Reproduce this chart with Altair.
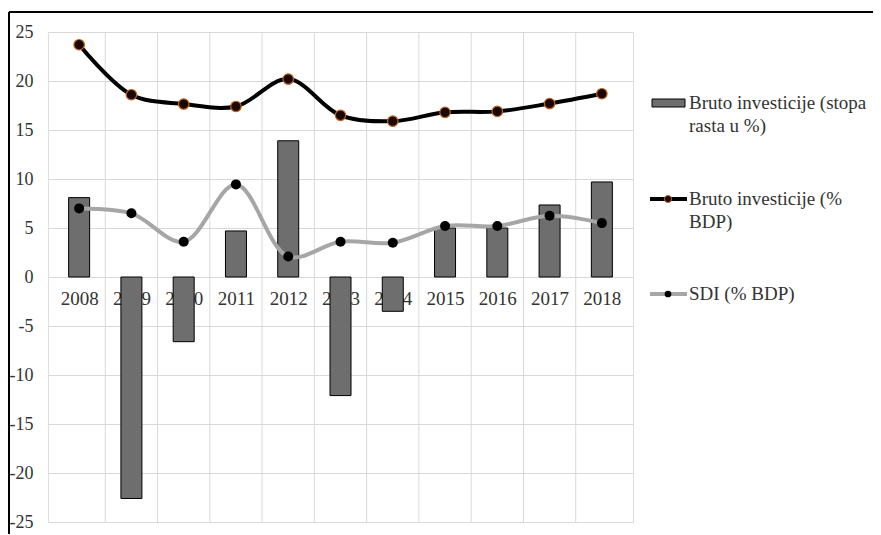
import altair as alt
import pandas as pd

# ---- data ----
years = [2008, 2009, 2010, 2011, 2012, 2013, 2014, 2015, 2016, 2017, 2018]
growth = [8.1, -22.6, -6.6, 4.7, 13.9, -12.1, -3.5, 5.0, 5.0, 7.35, 9.7]      # Bruto investicije (stopa rasta u %)
gross_inv = [23.7, 18.6, 17.65, 17.4, 20.2, 16.5, 15.9, 16.8, 16.9, 17.7, 18.7]  # Bruto investicije (% BDP)
fdi = [7.0, 6.5, 3.6, 9.45, 2.1, 3.6, 3.5, 5.2, 5.2, 6.25, 5.5]                # SDI (% BDP)
y_ticks = [-25, -20, -15, -10, -5, 0, 5, 10, 15, 20, 25]
legend_labels = ["Bruto investicije (stopa\nrasta u %)", "Bruto investicije (%\nBDP)", "SDI (% BDP)"]

W, H = 585, 490
FONT = "Liberation Serif, Times New Roman, Times, serif"
TXT = "#333333"

df = pd.DataFrame({"year": years, "growth": growth, "gi": gross_inv, "fdi": fdi})
bounds = pd.DataFrame({"year": years[:-1]})
one = pd.DataFrame({"k": [0]})

xs = alt.Scale(domain=[years[0] - 0.5, years[-1] + 0.5], nice=False, zero=False)
ys = alt.Scale(domain=[y_ticks[0], y_ticks[-1]], nice=False)

x_axis = alt.Axis(values=years, format="d", grid=False, domain=False, ticks=False,
                  labelPadding=12, offset=-245, labelFontSize=19, labelFont=FONT,
                  labelColor=TXT, title=None, zindex=0)
y_axis = alt.Axis(values=y_ticks, labelExpr="'' + datum.value", grid=True, gridColor="#d9d9d9",
                  domain=False, ticks=False, labelPadding=15, labelFontSize=18, labelFont=FONT,
                  labelColor=TXT, title=None, zindex=0)


def X(field="year"):
    return alt.X(f"{field}:Q", scale=xs, axis=x_axis)


def Y(field):
    return alt.Y(f"{field}:Q", scale=ys, axis=y_axis)


base = alt.Chart(df)

vgrid = alt.Chart(bounds).transform_calculate(b="datum.year + 0.5").mark_rule(
    color="#d9d9d9", strokeWidth=1).encode(x=alt.X("b:Q", scale=xs, axis=x_axis),
                                          y=alt.value(0), y2=alt.value(H))

bars = base.mark_bar(size=21, fill="#6e6e6e", stroke="black", strokeWidth=1).encode(
    x=X(), y=Y("growth"))

gi_line = base.mark_line(interpolate="catmull-rom", color="black", strokeWidth=4).encode(
    x=X(), y=Y("gi"))
gi_pts = base.mark_circle(size=110, color="#1a0800", opacity=1, stroke="#c0641e",
                          strokeWidth=1.2).encode(x=X(), y=Y("gi"))

fdi_line = base.mark_line(interpolate="catmull-rom", color="#a6a6a6", strokeWidth=4).encode(
    x=X(), y=Y("fdi"))
fdi_pts = base.mark_circle(size=100, color="black", opacity=1).encode(x=X(), y=Y("fdi"))

# ---- legend (drawn by hand, Excel style) ----
leg = alt.Chart(one)
lx0, lx1, lpx, ltx = 602, 639, 620, 641
item_y = [71, 167, 262]

leg_bar = leg.mark_rect(fill="#6e6e6e", stroke="black", strokeWidth=1).encode(
    x=alt.value(lx0 + 2), x2=alt.value(lx1 - 2), y=alt.value(item_y[0] - 4), y2=alt.value(item_y[0] + 4))
leg_l1 = leg.mark_rule(color="black", strokeWidth=4).encode(
    x=alt.value(lx0), x2=alt.value(lx1), y=alt.value(item_y[1]))
leg_p1 = leg.mark_circle(size=50, color="#1a0800", opacity=1, stroke="#c0641e", strokeWidth=1).encode(
    x=alt.value(lpx), y=alt.value(item_y[1]))
leg_l2 = leg.mark_rule(color="#a6a6a6", strokeWidth=4).encode(
    x=alt.value(lx0), x2=alt.value(lx1), y=alt.value(item_y[2]))
leg_p2 = leg.mark_circle(size=45, color="black", opacity=1).encode(
    x=alt.value(lpx), y=alt.value(item_y[2]))

texts = []
for lab, yy in zip(legend_labels, item_y):
    texts.append(leg.mark_text(align="left", baseline="alphabetic", font=FONT, fontSize=19,
                               color=TXT, lineBreak="\n", lineHeight=23).encode(
        x=alt.value(ltx), y=alt.value(yy + 6), text=alt.value(lab)))

frame_top = leg.mark_rule(color="black", strokeWidth=2).encode(
    x=alt.value(-39), x2=alt.value(1000), y=alt.value(-20))
frame_left = leg.mark_rule(color="black", strokeWidth=2).encode(
    x=alt.value(-39), y=alt.value(-20), y2=alt.value(1000))

chart = alt.layer(
    vgrid, bars, gi_line, gi_pts, fdi_line, fdi_pts,
    leg_bar, leg_l1, leg_p1, leg_l2, leg_p2, *texts, frame_top, frame_left
).properties(
    width=W, height=H,
    autosize=alt.AutoSizeParams(type="none"),
    padding={"left": 40, "top": 24, "right": 240, "bottom": 12},
).configure_view(stroke="#d9d9d9").configure(background="white", font=FONT)

chart.save("out.html", embed_options={"renderer": "svg", "actions": False})
